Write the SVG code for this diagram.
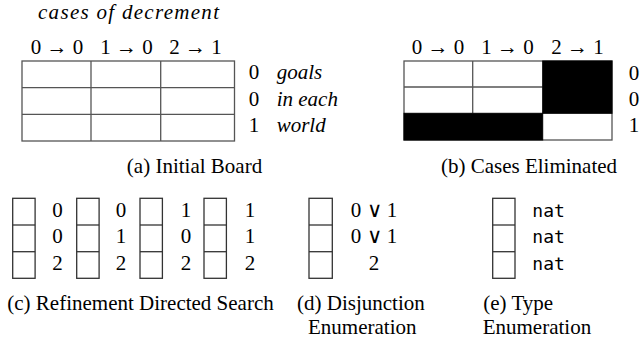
<svg xmlns="http://www.w3.org/2000/svg" width="642" height="343" viewBox="0 0 642 343">
<style>
  .t { font-family: "Liberation Serif", "Times New Roman", serif; font-size: 21px; fill: #000; }
  .i { font-family: "Liberation Serif", "Times New Roman", serif; font-size: 21px; font-style: italic; fill: #000; }
  .m { font-family: "DejaVu Sans Mono", "Liberation Mono", monospace; font-size: 18px; fill: #000; }
  .or { font-family: "DejaVu Sans", sans-serif; font-weight: 200; font-size: 21px; }
  .c { text-anchor: middle; }
  .cell { fill: #fff; stroke: #555; stroke-width: 1.3; }
  .blk { fill: #000; stroke: #000; stroke-width: 1; }
  .box { fill: #fff; stroke: #333; stroke-width: 1.3; }
</style>
<rect width="642" height="343" fill="#fff"/>

<g id="board-a">
  <text class="i" x="38" y="19" textLength="181" lengthAdjust="spacing">cases of decrement</text>
  <text class="t c" x="57" y="54">0 → 0</text>
  <text class="t c" x="126.5" y="54">1 → 0</text>
  <text class="t c" x="195.5" y="54">2 → 1</text>
  <rect class="cell" x="22" y="61" width="212.5" height="80"/>
  <line class="cell" x1="91" y1="61" x2="91" y2="141"/>
  <line class="cell" x1="160.7" y1="61" x2="160.7" y2="141"/>
  <line class="cell" x1="22" y1="87.7" x2="234.5" y2="87.7"/>
  <line class="cell" x1="22" y1="114.3" x2="234.5" y2="114.3"/>
  <text class="t c" x="254" y="79">0</text>
  <text class="t c" x="254" y="105.5">0</text>
  <text class="t c" x="254" y="132">1</text>
  <text class="i" x="276.7" y="79">goals</text>
  <text class="i" x="276.7" y="105.5">in each</text>
  <text class="i" x="276.7" y="132">world</text>
  <text class="t c" x="194.5" y="173">(a) Initial Board</text>
</g>

<g id="board-b">
  <text class="t c" x="438" y="54">0 → 0</text>
  <text class="t c" x="507.5" y="54">1 → 0</text>
  <text class="t c" x="577.5" y="54">2 → 1</text>
  <rect class="cell" x="404" y="61" width="208" height="79"/>
  <line class="cell" x1="472.7" y1="61" x2="472.7" y2="113.3"/>
  <line class="cell" x1="404" y1="87" x2="542.7" y2="87"/>
  <rect class="blk" x="542.7" y="61" width="69.3" height="52.3"/>
  <rect class="blk" x="404" y="113.3" width="138.7" height="26.7"/>
  <text class="t c" x="634" y="80">0</text>
  <text class="t c" x="634" y="105.7">0</text>
  <text class="t c" x="634" y="131.5">1</text>
  <text class="t c" x="529" y="173">(b) Cases Eliminated</text>
</g>

<g id="search-c">
  <g id="c1">
    <rect class="box" x="12.7" y="198.3" width="22.4" height="80"/>
    <line class="box" x1="12.7" y1="225" x2="35.1" y2="225"/>
    <line class="box" x1="12.7" y1="251.7" x2="35.1" y2="251.7"/>
    <text class="t c" x="57.5" y="217">0</text>
    <text class="t c" x="57.5" y="243">0</text>
    <text class="t c" x="57.5" y="270">2</text>
  </g>
  <g id="c2">
    <rect class="box" x="76.7" y="198.3" width="22.4" height="80"/>
    <line class="box" x1="76.7" y1="225" x2="99.1" y2="225"/>
    <line class="box" x1="76.7" y1="251.7" x2="99.1" y2="251.7"/>
    <text class="t c" x="121" y="217">0</text>
    <text class="t c" x="121" y="243">1</text>
    <text class="t c" x="121" y="270">2</text>
  </g>
  <g id="c3">
    <rect class="box" x="140" y="198.3" width="22.4" height="80"/>
    <line class="box" x1="140" y1="225" x2="162.4" y2="225"/>
    <line class="box" x1="140" y1="251.7" x2="162.4" y2="251.7"/>
    <text class="t c" x="186" y="217">1</text>
    <text class="t c" x="186" y="243">0</text>
    <text class="t c" x="186" y="270">2</text>
  </g>
  <g id="c4">
    <rect class="box" x="204" y="198.3" width="22.4" height="80"/>
    <line class="box" x1="204" y1="225" x2="226.4" y2="225"/>
    <line class="box" x1="204" y1="251.7" x2="226.4" y2="251.7"/>
    <text class="t c" x="250" y="217">1</text>
    <text class="t c" x="250" y="243">1</text>
    <text class="t c" x="250" y="270">2</text>
  </g>
  <text class="t" x="7.3" y="310">(c) Refinement Directed Search</text>
</g>

<g id="disj-d">
  <rect class="box" x="309" y="198.3" width="23.3" height="80"/>
  <line class="box" x1="309" y1="225" x2="332.3" y2="225"/>
  <line class="box" x1="309" y1="251.7" x2="332.3" y2="251.7"/>
  <text class="t c" x="374" y="217">0 <tspan class="or">∨</tspan> 1</text>
  <text class="t c" x="374" y="243">0 <tspan class="or">∨</tspan> 1</text>
  <text class="t c" x="374" y="270">2</text>
  <text class="t" x="297" y="310">(d) Disjunction</text>
  <text class="t" x="308" y="334">Enumeration</text>
</g>

<g id="type-e">
  <rect class="box" x="492.7" y="198.3" width="22.3" height="80"/>
  <line class="box" x1="492.7" y1="225" x2="515" y2="225"/>
  <line class="box" x1="492.7" y1="251.7" x2="515" y2="251.7"/>
  <text class="m" x="532.3" y="217">nat</text>
  <text class="m" x="532.3" y="243">nat</text>
  <text class="m" x="532.3" y="270">nat</text>
  <text class="t" x="483.3" y="310">(e) Type</text>
  <text class="t" x="482.7" y="334">Enumeration</text>
</g>
</svg>
